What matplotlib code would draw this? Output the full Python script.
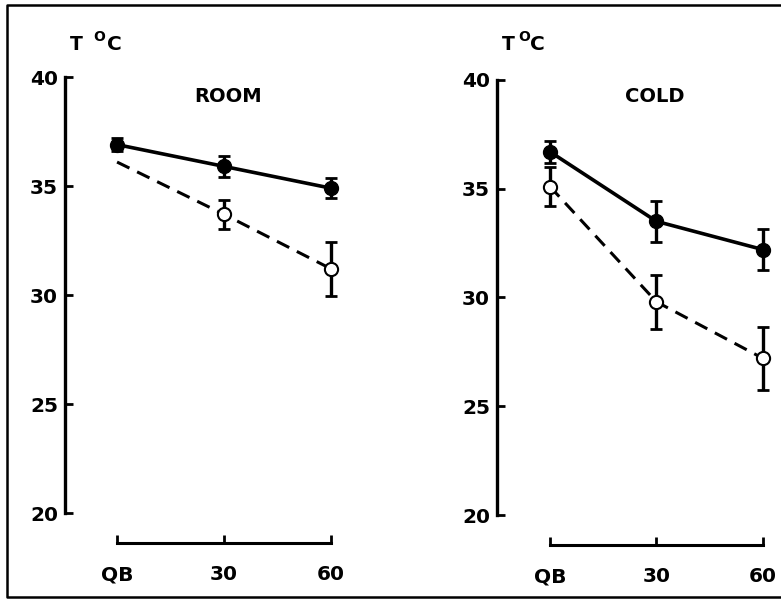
import matplotlib
matplotlib.use("Agg")
import matplotlib.pyplot as plt
from matplotlib.lines import Line2D

plt.rcParams["font.family"] = ["DejaVu Sans"]

# sampling points (QB = quiet baseline, then minutes)
x_pos = [0, 30, 60]
x_labels = ["QB", "30", "60"]
y_ticks = [20, 25, 30, 35, 40]

# ROOM panel
room_filled = [36.9, 35.9, 34.9]
room_filled_err = [0.3, 0.5, 0.45]
room_open = [36.1, 33.7, 31.2]
room_open_err = [0.0, 0.65, 1.25]

# COLD panel
cold_filled = [36.7, 33.5, 32.2]
cold_filled_err = [0.5, 0.95, 0.95]
cold_open = [35.1, 29.8, 27.2]
cold_open_err = [0.9, 1.25, 1.45]

fig = plt.figure(figsize=(7.81, 6.0), dpi=100)

# unit label positions (fig fraction): T, superscript O, C
panels = [
    dict(rect=[0.0832, 0.095, 0.365, 0.805], xlim=(-14.6, 65.3),
         title="ROOM", title_x=0.292, filled=room_filled, ferr=room_filled_err,
         opn=room_open, oerr=room_open_err, open_marks=[1, 2],
         unit_x=(0.090, 0.120, 0.137)),
    dict(rect=[0.6364, 0.092, 0.3636, 0.803], xlim=(-14.9, 65.07),
         title="COLD", title_x=0.838, filled=cold_filled, ferr=cold_filled_err,
         opn=cold_open, oerr=cold_open_err, open_marks=[0, 1, 2],
         unit_x=(0.643, 0.664, 0.678)),
]

for p in panels:
    ax = fig.add_axes(p["rect"])
    ax.set_xlim(*p["xlim"])
    ax.set_ylim(18.63, 40.78)
    for s in ("top", "right"):
        ax.spines[s].set_visible(False)
    ax.spines["left"].set_bounds(20, 40)
    ax.spines["bottom"].set_bounds(0, 60)
    ax.spines["left"].set_linewidth(2.4)
    ax.spines["bottom"].set_linewidth(2.2)
    ax.set_yticks(y_ticks)
    ax.set_xticks(x_pos)
    ax.set_xticklabels(x_labels)
    ax.tick_params(axis="y", direction="in", length=6, width=2, pad=5,
                   labelsize=14.5)
    ax.tick_params(axis="x", direction="in", length=6, width=2, pad=16,
                   labelsize=14.5)
    for lab in ax.get_xticklabels() + ax.get_yticklabels():
        lab.set_fontweight("bold")

    # open circles, dashed line
    oerr_idx = [i for i in range(3) if p["oerr"][i] > 0]
    ax.errorbar([x_pos[i] for i in oerr_idx], [p["opn"][i] for i in oerr_idx],
                yerr=[p["oerr"][i] for i in oerr_idx], fmt="none", ecolor="black",
                elinewidth=2.4, capsize=4, capthick=2, clip_on=False, zorder=2)
    ax.plot(x_pos, p["opn"], color="black", lw=2.2, linestyle=(0, (4.5, 2.8)),
            zorder=3, clip_on=False)
    ax.plot([x_pos[i] for i in p["open_marks"]], [p["opn"][i] for i in p["open_marks"]],
            linestyle="none", marker="o", ms=9.5, mfc="white", mec="black",
            mew=1.5, zorder=4, clip_on=False)

    # filled circles, solid line
    ax.errorbar(x_pos, p["filled"], yerr=p["ferr"], fmt="none", ecolor="black",
                elinewidth=2.4, capsize=4, capthick=2, clip_on=False, zorder=5)
    ax.plot(x_pos, p["filled"], color="black", lw=2.6, marker="o", ms=10,
            mfc="black", mec="black", zorder=6, clip_on=False)

    fig.text(p["title_x"], 0.84, p["title"], ha="center", va="center",
             fontsize=14, fontweight="bold")
    ux = p["unit_x"]
    fig.text(ux[0], 0.926, "T", ha="left", va="center", fontsize=13.5,
             fontweight="bold")
    fig.text(ux[1], 0.939, "O", ha="left", va="center", fontsize=10,
             fontweight="bold")
    fig.text(ux[2], 0.926, "C", ha="left", va="center", fontsize=14.5,
             fontweight="bold")

# frame around the figure (right edge cropped)
fig.add_artist(Line2D([1.0, 0.009, 0.009, 1.0], [0.992, 0.992, 0.005, 0.005],
                      transform=fig.transFigure, color="black", lw=1.8))

fig.savefig("out.png", dpi=100)
